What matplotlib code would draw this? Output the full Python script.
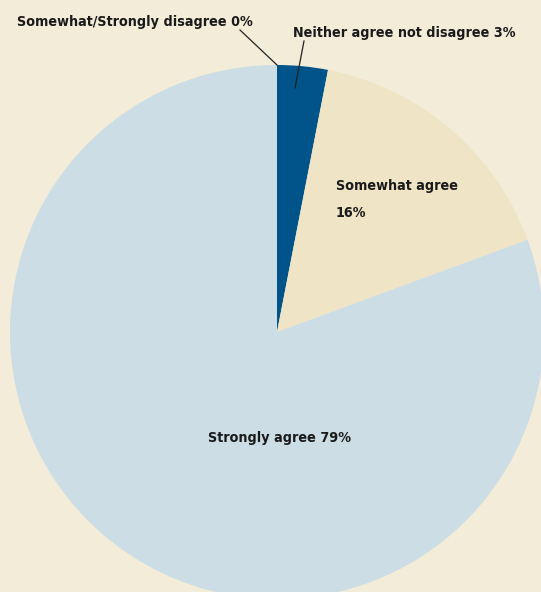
import matplotlib
matplotlib.use("Agg")
import matplotlib.pyplot as plt

# survey shares, clockwise from 12 o'clock
categories = ["Somewhat/Strongly disagree", "Neither agree not disagree",
              "Somewhat agree", "Strongly agree"]
shares = [0, 3, 16, 79]
colors = ["#00548a", "#00548a", "#efe5c6", "#ccdde5"]

BG = "#f3ecd8"
W, H = 541, 592

plt.rcParams["font.family"] = ["DejaVu Sans"]

fig = plt.figure(figsize=(W / 100, H / 100), dpi=100, facecolor=BG)
ax = fig.add_axes([0, 0, 1, 1])
ax.set_facecolor(BG)

cx, cy, r = 277, H - 332, 267
ax.pie(shares, colors=colors, startangle=90, counterclock=False,
       center=(cx, cy), radius=r, frame=True,
       wedgeprops=dict(linewidth=0))
ax.set_xlim(0, W)
ax.set_ylim(0, H)
ax.set_aspect("equal")
ax.axis("off")

tk = dict(fontsize=10.3, fontweight="bold", fontstretch="condensed", color="#1a1a1a")

ax.text(17, H - 22, f"{categories[0]} {shares[0]}%", ha="left", va="center", **tk)
ax.plot([240, 277], [H - 30, H - 65], color="#222222", lw=0.9)

ax.text(293, H - 33, f"{categories[1]} {shares[1]}%", ha="left", va="center", **tk)
ax.plot([304, 295], [H - 41, H - 88], color="#222222", lw=0.9)

ax.text(336, H - 186, categories[2], ha="left", va="center", **tk)
ax.text(336, H - 213, f"{shares[2]}%", ha="left", va="center", **tk)

ax.text(280, H - 438, f"{categories[3]} {shares[3]}%", ha="center", va="center", **tk)

fig.savefig("out.png", dpi=100, facecolor=BG)
